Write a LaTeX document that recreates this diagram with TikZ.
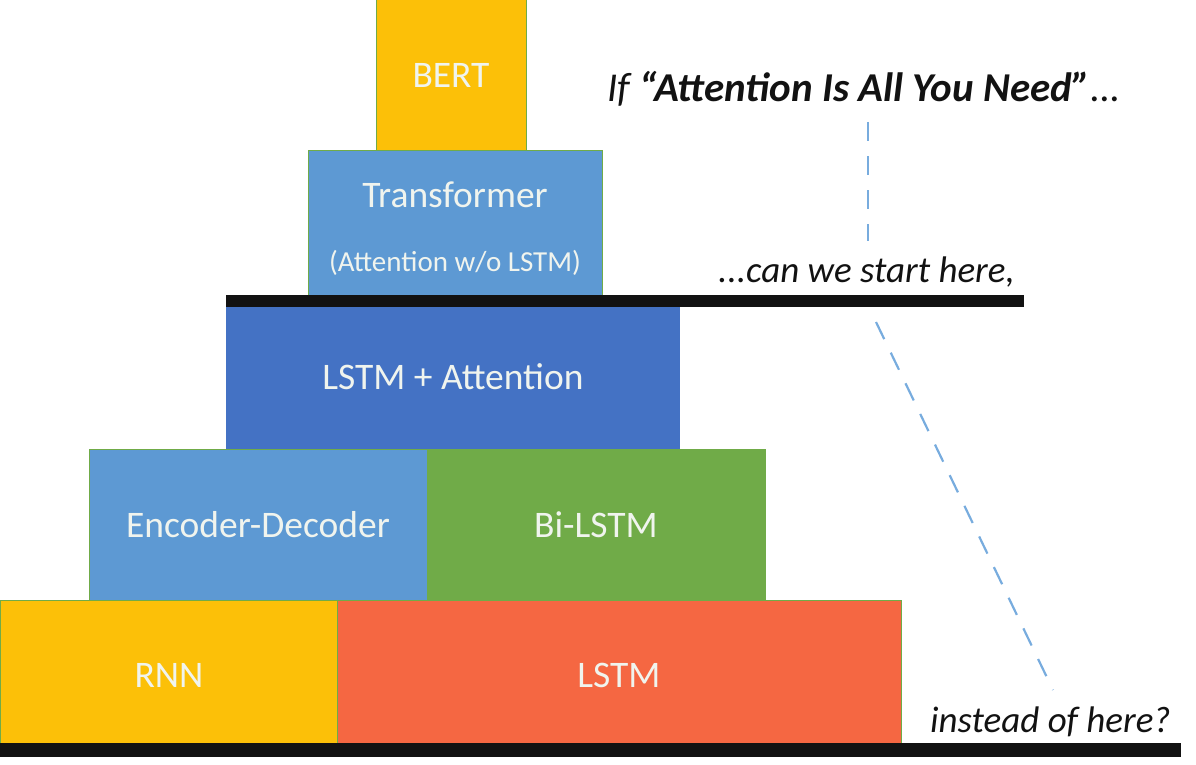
\documentclass[tikz,border=0pt]{standalone}
\usepackage{fontspec}
\setmainfont{Carlito}
\definecolor{cyel}{RGB}{252,192,8}
\definecolor{cltblue}{RGB}{93,153,211}
\definecolor{cdkblue}{RGB}{68,114,196}
\definecolor{cgreen}{RGB}{112,171,72}
\definecolor{cred}{RGB}{245,103,66}
\definecolor{ctxt}{RGB}{240,244,238}
\definecolor{cdash}{RGB}{120,172,222}
\definecolor{cblack}{RGB}{18,18,18}
\tikzset{
  blk/.style={draw=cgreen, line width=1pt},
  blktext/.style={text=ctxt, font=\fontsize{37.5}{42}\selectfont, inner sep=0pt},
  smalltext/.style={text=ctxt, font=\fontsize{29}{33}\selectfont, inner sep=0pt},
  notetext/.style={text=cblack, font=\fontsize{37}{42}\selectfont\itshape, inner sep=0pt, anchor=base west},
  titletext/.style={text=cblack, font=\fontsize{41}{46}\selectfont\itshape, inner sep=0pt, anchor=base west},
  bar/.style={fill=cblack, draw=none},
  dashline/.style={draw=cdash, line width=2.2pt, dash pattern=on 19pt off 15pt}
}
\begin{document}
\begin{tikzpicture}[x=1pt,y=-1pt]
\useasboundingbox (0,0) rectangle (1196,765);
% blocks
\fill[cyel, blk] (376,0) rectangle (526,150);
\node[blktext] (bert) at (451,75) {BERT};
\fill[cltblue, blk] (308,150) rectangle (602,295);
\node[blktext] (trans) at (455,195) {Transformer};
\node[smalltext] (transsub) at (455,263) {(Attention w/o LSTM)};
\fill[cdkblue] (226,307) rectangle (680,449);
\node[blktext] (lstmatt) at (453,377) {LSTM + Attention};
\fill[cltblue, blk] (89,449) rectangle (427,600);
\node[blktext] (encdec) at (258,525) {Encoder-Decoder};
\fill[cgreen, blk] (427,449) rectangle (765,600);
\node[blktext] (bilstm) at (596,525) {Bi-LSTM};
\fill[cyel, blk] (0,600) rectangle (337,743);
\node[blktext] (rnn) at (169,675) {RNN};
\fill[cred, blk] (337,600) rectangle (901,743);
\node[blktext] (lstm) at (619,675) {LSTM};
% bars
\fill[bar] (226,295) rectangle (1024,307);
\fill[bar] (0,743) rectangle (1181,757);
% notes
\node[titletext] (q1) at (607,102) {If \textbf{“Attention Is All You Need”}...};
\node[notetext] (q2) at (718,282) {...can we start here,};
\node[notetext] (q3) at (930,732) {instead of here?};
% dashed connectors
\coordinate (v1) at (868,122);
\coordinate (v2) at (868,241);
\coordinate (d1) at (876,322);
\coordinate (d2) at (1053,690);
\draw[dashline] (v1) -- (v2);
\draw[dashline] (d1) -- (d2);
\end{tikzpicture}
\end{document}
